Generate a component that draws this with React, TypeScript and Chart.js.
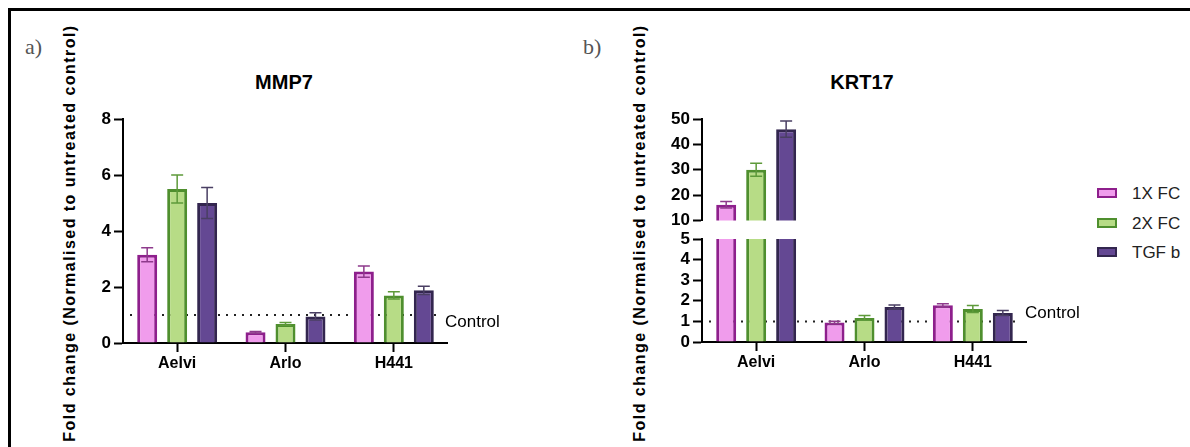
import React, { useEffect, useRef } from 'react';
import { Chart, registerables } from 'chart.js';

Chart.register(...registerables);

// ---------- data ----------
const categories = ['Aelvi', 'Arlo', 'H441'];
const seriesNames = ['1X FC', '2X FC', 'TGF b'];

const mmp7_1x = [3.15, 0.38, 2.55];
const mmp7_2x = [5.5, 0.68, 1.7];
const mmp7_tgf = [5.0, 0.95, 1.88];
const mmp7Err_1x = [0.25, 0.03, 0.2];
const mmp7Err_2x = [0.5, 0.05, 0.13];
const mmp7Err_tgf = [0.55, 0.13, 0.15];

const krt17_1x = [16.2, 0.95, 1.78];
const krt17_2x = [30, 1.17, 1.6];
const krt17_tgf = [46, 1.7, 1.41];
const krt17Err_1x = [1.3, 0.06, 0.08];
const krt17Err_2x = [2.6, 0.12, 0.17];
const krt17Err_tgf = [3.2, 0.1, 0.12];

const mmp7Ticks = [0, 2, 4, 6, 8];
const krt17LowTicks = [0, 1, 2, 3, 4, 5];
const krt17HighTicks = [10, 20, 30, 40, 50];
const controlLevel = 1;

// ---------- styles ----------
const FONT = "'Liberation Sans', Arial, Helvetica, sans-serif";
const fills = ['#F09CEC', '#B7DC86', '#644893'];
const borders = ['#8E1F8C', '#4F8F2E', '#33264F'];
const errColors = ['#8E3A8C', '#5E9A3A', '#4A3F63'];

const errorBarPlugin = {
  id: 'errorBars',
  afterDatasetsDraw(chart: any) {
    const { ctx } = chart;
    const y = chart.scales.y;
    chart.data.datasets.forEach((ds: any, di: number) => {
      const meta = chart.getDatasetMeta(di);
      meta.data.forEach((bar: any, i: number) => {
        const v = ds.data[i];
        if (v == null) return;
        if (v > y.max || v < y.min) return;
        const e = ds.errors[i];
        const x = bar.x;
        const yt = y.getPixelForValue(v + e);
        const yb = y.getPixelForValue(Math.max(v - e, y.min));
        ctx.save();
        ctx.strokeStyle = ds.errColor;
        ctx.lineWidth = 1.5;
        ctx.beginPath();
        ctx.moveTo(x, yt);
        ctx.lineTo(x, yb);
        ctx.moveTo(x - 6, yt);
        ctx.lineTo(x + 6, yt);
        ctx.moveTo(x - 6, yb);
        ctx.lineTo(x + 6, yb);
        ctx.stroke();
        ctx.restore();
      });
    });
  },
};

const controlLinePlugin = {
  id: 'controlLine',
  beforeDatasetsDraw(chart: any, _args: any, opts: any) {
    if (!opts || !opts.show) return;
    const { ctx, chartArea } = chart;
    const y = chart.scales.y;
    const py = y.getPixelForValue(opts.value);
    ctx.save();
    ctx.strokeStyle = '#222';
    ctx.lineWidth = 2;
    ctx.setLineDash([2, 6]);
    ctx.beginPath();
    ctx.moveTo(chartArea.left + 7, py);
    ctx.lineTo(chartArea.right - 6, py);
    ctx.stroke();
    ctx.restore();
  },
};

type PanelProps = {
  left: number;
  top: number;
  width: number;
  height: number;
  padTop: number;
  padBottom: number;
  yAxisWidth: number;
  xAxisHeight: number;
  showX: boolean;
  series: (number | null)[][];
  errors: number[][];
  ticks: number[];
  control: boolean;
  clip?: number;
};

function BarPanel(p: PanelProps) {
  const ref = useRef<HTMLCanvasElement | null>(null);
  useEffect(() => {
    if (!ref.current) return;
    const tickCommon = {
      display: true,
      drawOnChartArea: false,
      drawTicks: true,
      tickLength: 9,
      tickWidth: 2,
      tickColor: '#000',
    };
    const chart = new Chart(ref.current, {
      type: 'bar',
      data: {
        labels: categories,
        datasets: p.series.map((vals, k) => ({
          label: seriesNames[k],
          data: vals,
          backgroundColor: fills[k],
          borderColor: borders[k],
          borderWidth: 3,
          barPercentage: 0.667,
          categoryPercentage: 0.83,
          errors: p.errors[k],
          errColor: errColors[k],
          ...(p.clip !== undefined ? { clip: p.clip } : {}),
        })) as any,
      },
      options: {
        animation: false,
        responsive: false,
        devicePixelRatio: 1,
        layout: { padding: { left: 0, right: 0, top: p.padTop, bottom: p.padBottom } },
        plugins: {
          legend: { display: false },
          tooltip: { enabled: false },
          title: { display: false },
          controlLine: { show: p.control, value: controlLevel },
        } as any,
        scales: {
          x: {
            display: p.showX,
            grid: { ...tickCommon, offset: false },
            border: { display: true, color: '#000', width: 2 },
            ticks: { color: '#000', padding: 2, font: { family: FONT, size: 16, weight: 'bold' } },
            afterFit: (s: any) => {
              s.height = p.xAxisHeight;
            },
          },
          y: {
            min: p.ticks[0],
            max: p.ticks[p.ticks.length - 1],
            grid: tickCommon,
            border: { display: true, color: '#000', width: 2 },
            ticks: {
              stepSize: p.ticks[1] - p.ticks[0],
              autoSkip: false,
              color: '#000',
              padding: 3,
              font: { family: FONT, size: 17, weight: 'bold', lineHeight: 1 },
            },
            afterFit: (s: any) => {
              s.width = p.yAxisWidth;
            },
          },
        } as any,
      },
      plugins: [errorBarPlugin, controlLinePlugin],
    });
    return () => chart.destroy();
  }, []);
  return (
    <canvas
      ref={ref}
      width={p.width}
      height={p.height}
      style={{ position: 'absolute', left: p.left, top: p.top, width: p.width, height: p.height }}
    />
  );
}

const textBase: React.CSSProperties = {
  position: 'absolute',
  fontFamily: FONT,
  whiteSpace: 'nowrap',
  lineHeight: 1,
  color: '#000',
};

function YTitle({ cx, cy }: { cx: number; cy: number }) {
  return (
    <div
      style={{
        ...textBase,
        left: cx,
        top: cy,
        fontSize: 16,
        fontWeight: 'bold',
        letterSpacing: 1.45,
        transform: 'translate(-50%, -50%) rotate(-90deg)',
      }}
    >
      Fold change (Normalised to untreated control)
    </div>
  );
}

function Centered({ cx, cy, size, bold, children }: any) {
  return (
    <div
      style={{
        ...textBase,
        left: cx,
        top: cy,
        fontSize: size,
        fontWeight: bold ? 'bold' : 'normal',
        transform: 'translate(-50%, -50%)',
      }}
    >
      {children}
    </div>
  );
}

function LeftText({ x, cy, size, children, style }: any) {
  return (
    <div
      style={{
        ...textBase,
        left: x,
        top: cy - size / 2,
        fontSize: size,
        height: size,
        ...style,
      }}
    >
      {children}
    </div>
  );
}

const highOnly = (arr: number[]) => arr.map((v) => (v > krt17HighTicks[0] ? v : null));

export default function App() {
  const legendY = [193, 223, 252];
  return (
    <div
      style={{
        position: 'absolute',
        left: 0,
        top: 0,
        width: 1190,
        height: 447,
        overflow: 'hidden',
        background: '#fff',
      }}
    >
      <div
        style={{
          position: 'absolute',
          left: 8,
          top: 8,
          width: 1300,
          height: 600,
          borderTop: '3px solid #000',
          borderLeft: '3px solid #000',
        }}
      />
      <LeftText x={25} cy={47} size={22} style={{ fontFamily: "'Liberation Serif', 'Times New Roman', serif", color: '#555' }}>
        a)
      </LeftText>
      <LeftText x={583} cy={47} size={22} style={{ fontFamily: "'Liberation Serif', 'Times New Roman', serif", color: '#555' }}>
        b)
      </LeftText>

      <Centered cx={284} cy={82} size={20} bold>
        MMP7
      </Centered>
      <Centered cx={862} cy={82} size={20} bold>
        KRT17
      </Centered>

      <YTitle cx={70} cy={233} />
      <YTitle cx={640} cy={233} />

      <BarPanel
        left={60}
        top={100}
        width={388}
        height={290}
        padTop={19}
        padBottom={0}
        yAxisWidth={63}
        xAxisHeight={47}
        showX={true}
        series={[mmp7_1x, mmp7_2x, mmp7_tgf]}
        errors={[mmp7Err_1x, mmp7Err_2x, mmp7Err_tgf]}
        ticks={mmp7Ticks}
        control={true}
      />

      <BarPanel
        left={630}
        top={100}
        width={397}
        height={132}
        padTop={19}
        padBottom={10}
        yAxisWidth={72}
        xAxisHeight={0}
        showX={false}
        series={[highOnly(krt17_1x), highOnly(krt17_2x), highOnly(krt17_tgf)]}
        errors={[krt17Err_1x, krt17Err_2x, krt17Err_tgf]}
        ticks={krt17HighTicks}
        control={false}
      />
      <BarPanel
        left={630}
        top={225}
        width={397}
        height={165}
        padTop={14}
        padBottom={0}
        yAxisWidth={72}
        xAxisHeight={48}
        showX={true}
        series={[krt17_1x, krt17_2x, krt17_tgf]}
        errors={[krt17Err_1x, krt17Err_2x, krt17Err_tgf]}
        ticks={krt17LowTicks}
        control={true}
        clip={0}
      />

      <LeftText x={445} cy={321} size={17}>
        Control
      </LeftText>
      <LeftText x={1025} cy={312} size={17}>
        Control
      </LeftText>

      {seriesNames.map((name, k) => (
        <React.Fragment key={name}>
          <div
            style={{
              position: 'absolute',
              left: 1097,
              top: legendY[k] - 5,
              width: 20,
              height: 10,
              boxSizing: 'border-box',
              background: fills[k],
              border: `2.5px solid ${borders[k]}`,
            }}
          />
          <LeftText x={1132} cy={legendY[k]} size={17} style={{ color: '#222' }}>
            {name}
          </LeftText>
        </React.Fragment>
      ))}
    </div>
  );
}
